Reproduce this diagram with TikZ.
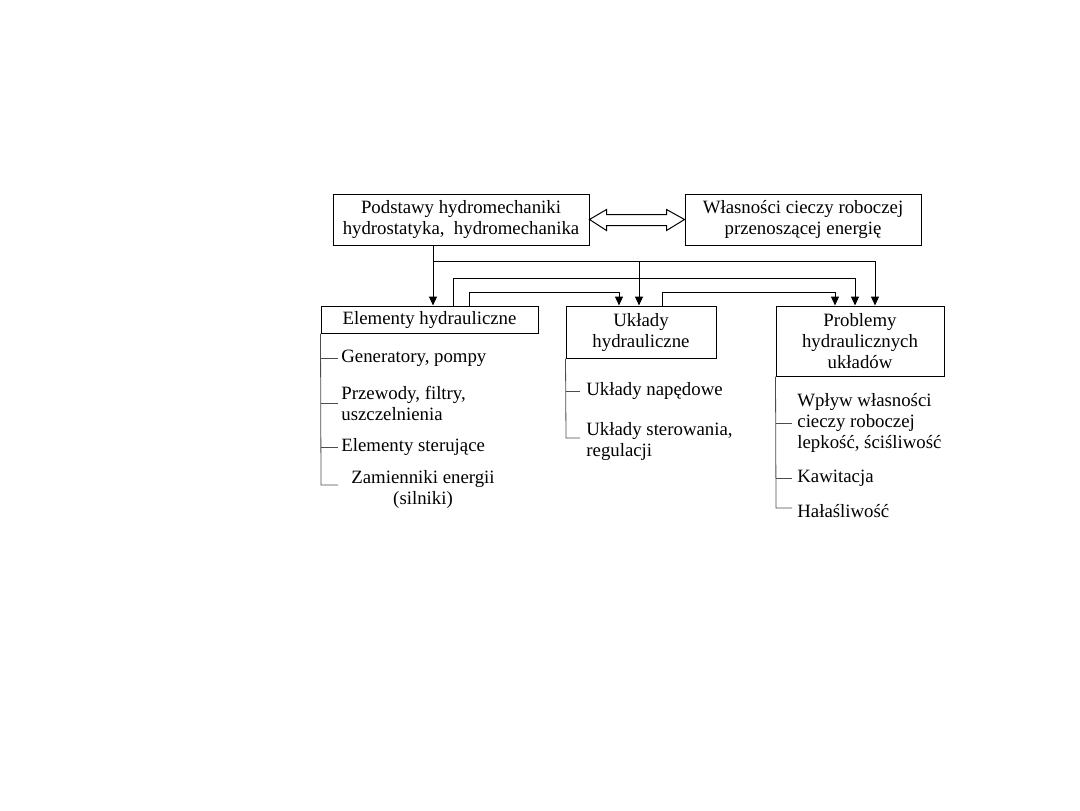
\documentclass[tikz,border=0pt]{standalone}
\usepackage{fontspec}
\setmainfont{Liberation Serif}
\usetikzlibrary{arrows.meta,calc}
\begin{document}
\begin{tikzpicture}[x=0.5pt,y=-0.5pt,
  box/.style={draw,line width=0.5pt,inner sep=0pt,align=center,font=\fontsize{9.4}{10.5}\selectfont},
  item/.style={inner sep=0pt,anchor=west,align=left,font=\fontsize{9.4}{10.5}\selectfont},
  ln/.style={line width=0.5pt},
  arr/.style={line width=0.5pt,-{Triangle[length=4.5pt,width=4pt]}},
  br/.style={line width=0.4pt,draw=black!70}]
\useasboundingbox (0,0) rectangle (1080,810);
% boxes
\node[box,minimum width=128pt,minimum height=25.5pt] (p) at (461,219.5) {Podstawy hydromechaniki\\hydrostatyka,\ \ hydromechanika};
\node[box,minimum width=118pt,minimum height=25.5pt] (w) at (803,219.5) {Własności cieczy roboczej\\przenoszącej energię};
\node[box,minimum width=108.5pt,minimum height=13.5pt] (e) at (429.5,319.5) {Elementy hydrauliczne};
\node[box,minimum width=75pt,minimum height=26pt] (u) at (641,332) {Układy\\hydrauliczne};
\node[box,minimum width=84pt,minimum height=35pt] (r) at (860,341) {Problemy\\hydraulicznych\\układów};
% hollow double arrow
\draw[ln] (p.east) -- ++(17,-10) -- ++(0,5) -- ($(w.west)+(-18,-5)$) -- ++(0,-5) -- (w.west)
  -- ++(-18,11) -- ++(0,-5) -- ($(p.east)+(17,6)$) -- ++(0,5) -- cycle;
% coordinates of connector lines
\coordinate (xa) at (433,0);
\coordinate (xb) at (453,0);
\coordinate (xc) at (469,0);
\coordinate (xd) at (619,0);
\coordinate (xe) at (639,0);
\coordinate (xf) at (662,0);
\coordinate (xg) at (835,0);
\coordinate (xh) at (855,0);
\coordinate (xi) at (875,0);
\coordinate (y1) at (0,261);
\coordinate (y2) at (0,278);
\coordinate (y3) at (0,292);
% connectors
\draw[arr] (p.south -| xa) -- (e.north -| xa);
\draw[ln] (xa |- y1) -- (xi |- y1);
\draw[arr] (xe |- y1) -- (u.north -| xe);
\draw[arr] (xi |- y1) -- (r.north -| xi);
\draw[arr] (e.north -| xb) -- (xb |- y2) -- (xh |- y2) -- (r.north -| xh);
\draw[arr] (e.north -| xc) -- (xc |- y3) -- (xd |- y3) -- (u.north -| xd);
\draw[arr] (u.north -| xf) -- (xf |- y3) -- (xg |- y3) -- (r.north -| xg);
% Elementy sub-items
\node[item] (e1) at (341,358) {Generatory, pompy};
\node[item] (e2) at (341,403) {Przewody, filtry,\\uszczelnienia};
\node[item] (e3) at (341,447) {Elementy sterujące};
\node[item,anchor=center,align=center] (e4) at (423,489) {Zamienniki energii\\(silniki)};
\coordinate (eb) at (321,485);
\draw[br] (e.south west) -- (eb) -- (338,485);
\draw[br] (e.south west |- e1) -- ($(e1.west)+(-3,0)$);
\draw[br] (e.south west |- e2) -- ($(e2.west)+(-3,0)$);
\draw[br] (e.south west |- e3) -- ($(e3.west)+(-3,0)$);
% Układy sub-items
\node[item] (u1) at (586,391) {Układy napędowe};
\node[item] (u2) at (586,441) {Układy sterowania,\\regulacji};
\draw[br] (u.south west) -- (566,438) -- (580,438);
\draw[br] (u.south west |- u1) -- ($(u1.west)+(-6,0)$);
% Problemy sub-items
\node[item] (r1) at (797,423) {Wpływ własności\\cieczy roboczej\\lepkość, ściśliwość};
\node[item] (r2) at (797,478) {Kawitacja};
\node[item] (r3) at (797,511) {Hałaśliwość};
\draw[br] (r.south west) -- (776,508) -- (792,508);
\draw[br] (r.south west |- r1) -- ($(r1.west)+(-5,0)$);
\draw[br] (r.south west |- r2) -- ($(r2.west)+(-5,0)$);
\end{tikzpicture}
\end{document}
